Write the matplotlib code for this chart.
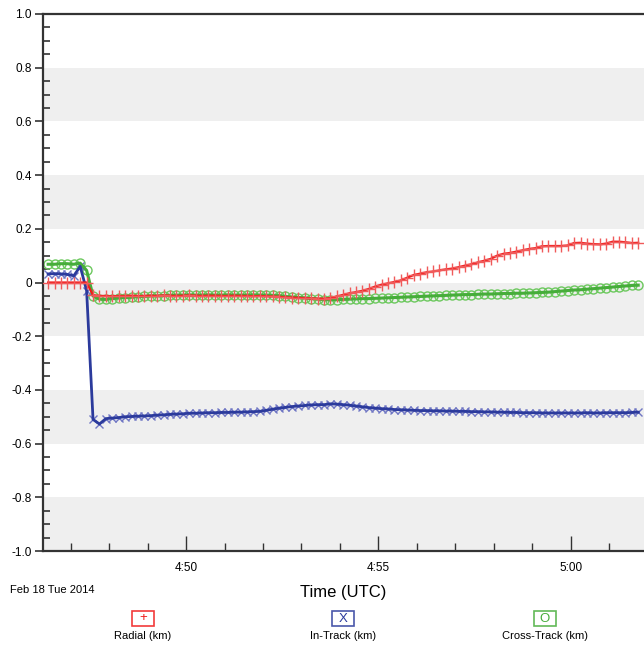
import datetime as dt
import matplotlib
matplotlib.use("Agg")
import matplotlib.pyplot as plt
import matplotlib.dates as mdates
from matplotlib.patches import Rectangle
from matplotlib.ticker import MultipleLocator, FuncFormatter

plt.rcParams['font.family'] = ['Liberation Sans Narrow', 'Liberation Sans', 'DejaVu Sans']

# samples every 10 s starting 04:46:25 UTC
t0 = dt.datetime(2014, 2, 18, 4, 46, 25)
n_pts = 93
times = [t0 + dt.timedelta(seconds=10 * i) for i in range(n_pts)]

radial = [0.0, 0.0, 0.0, 0.0, 0.0, 0.0, 0.0, -0.047, -0.05, -0.05,
          -0.051, -0.05, -0.05, -0.049, -0.05, -0.05, -0.049, -0.05, -0.048, -0.049,
          -0.05, -0.049, -0.048, -0.049, -0.05, -0.049, -0.049, -0.05, -0.05, -0.049,
          -0.05, -0.05, -0.051, -0.05, -0.051, -0.052, -0.053, -0.055, -0.056, -0.057,
          -0.058, -0.059, -0.06, -0.06, -0.058, -0.052, -0.046, -0.04, -0.036, -0.031,
          -0.024, -0.015, -0.008, -0.003, 0.002, 0.008, 0.018, 0.028, 0.033, 0.038,
          0.041, 0.045, 0.049, 0.052, 0.057, 0.063, 0.068, 0.075, 0.081, 0.088,
          0.1, 0.107, 0.11, 0.115, 0.12, 0.125, 0.128, 0.135, 0.136, 0.136,
          0.136, 0.138, 0.147, 0.148, 0.145, 0.143, 0.142, 0.145, 0.152, 0.152,
          0.15, 0.147, 0.148]

in_track = [0.032, 0.033, 0.032, 0.03, 0.025, 0.06, -0.03, -0.51, -0.527, -0.507,
            -0.505, -0.503, -0.5, -0.499, -0.498, -0.497, -0.496, -0.494, -0.493, -0.491,
            -0.49, -0.489, -0.487, -0.487, -0.486, -0.485, -0.485, -0.484, -0.484, -0.483,
            -0.483, -0.482, -0.481, -0.48, -0.476, -0.472, -0.468, -0.465, -0.462, -0.46,
            -0.458, -0.456, -0.455, -0.455, -0.452, -0.453, -0.455, -0.457, -0.46, -0.463,
            -0.466, -0.468, -0.47, -0.471, -0.473, -0.474, -0.475, -0.476, -0.477, -0.477,
            -0.478, -0.478, -0.479, -0.479, -0.48, -0.48, -0.481, -0.481, -0.482, -0.482,
            -0.483, -0.483, -0.484, -0.484, -0.485, -0.485, -0.485, -0.486, -0.486, -0.486,
            -0.486, -0.486, -0.486, -0.486, -0.485, -0.486, -0.486, -0.485, -0.485, -0.485,
            -0.485, -0.484, -0.483]

cross_track = [0.068, 0.068, 0.07, 0.07, 0.068, 0.072, 0.045, -0.05, -0.062, -0.063,
               -0.06, -0.058, -0.056, -0.055, -0.053, -0.052, -0.05, -0.05, -0.049, -0.048,
               -0.047, -0.047, -0.046, -0.047, -0.047, -0.046, -0.047, -0.047, -0.046, -0.047,
               -0.047, -0.047, -0.046, -0.047, -0.047, -0.048, -0.049, -0.052, -0.054, -0.056,
               -0.057, -0.06, -0.062, -0.064, -0.065, -0.064, -0.063, -0.062, -0.061, -0.06,
               -0.06, -0.059, -0.058, -0.057, -0.056, -0.055, -0.054, -0.053, -0.052, -0.051,
               -0.05, -0.049, -0.048, -0.047, -0.046, -0.045, -0.045, -0.044, -0.043, -0.043,
               -0.042, -0.041, -0.041, -0.04, -0.04, -0.039, -0.038, -0.037, -0.036, -0.034,
               -0.032, -0.03, -0.028, -0.027, -0.025, -0.023, -0.021, -0.019, -0.017, -0.015,
               -0.013, -0.011, -0.01]

series_labels = ["Radial (km)", "In-Track (km)", "Cross-Track (km)"]
legend_symbols = ["+", "X", "O"]
y_ticks = [1.0, 0.8, 0.6, 0.4, 0.2, 0.0, -0.2, -0.4, -0.6, -0.8, -1.0]
date_label = "Feb 18 Tue 2014"

red_line, red_mark = "#f01818", "#f05a5a"
blue_line, blue_mark = "#2b3a9c", "#6f76c4"
green_line, green_mark = "#46ad3a", "#6cc85e"

W, H = 644, 646
fig = plt.figure(figsize=(W / 100, H / 100), dpi=100)
ax = fig.add_axes([43 / W, 1 - 551 / H, 1 - 43 / W, (551 - 14) / H])

# alternating light bands
for lo in [0.6, 0.2, -0.2, -0.6, -1.0]:
    ax.axhspan(lo, lo + 0.2, color="#efefef", lw=0, zorder=0)

# cross-track
ax.plot(times, cross_track, ls="none", marker="o", ms=6.5, mfc="none", mec=green_mark, mew=1.0, zorder=2)
ax.plot(times, cross_track, color=green_line, lw=2.2, zorder=3)
# in-track
ax.plot(times, in_track, ls="none", marker="x", ms=6, mec=blue_mark, mew=1.0, zorder=2)
ax.plot(times, in_track, color=blue_line, lw=2.0, zorder=3)
# radial
ax.plot(times, radial, color=red_line, lw=1.6, zorder=4)
ax.plot(times, radial, ls="none", marker="+", ms=8, mec=red_mark, mew=1.0, zorder=5)

ax.set_ylim(-1.0, 1.0)
ax.set_xlim(dt.datetime(2014, 2, 18, 4, 46, 17), dt.datetime(2014, 2, 18, 5, 1, 54))

ax.set_yticks(y_ticks)
ax.set_yticklabels(["0" if v == 0 else f"{v:.1f}" for v in y_ticks])
ax.yaxis.set_minor_locator(MultipleLocator(0.05))
ax.tick_params(axis="y", which="major", direction="out", length=6, width=1.2, color="#333333",
               labelsize=8.5, pad=2)
ax.tick_params(axis="y", which="minor", direction="in", length=5, width=1.2, color="#333333")

ax.xaxis.set_major_locator(mdates.MinuteLocator(byminute=[50, 55, 0]))
ax.xaxis.set_minor_locator(mdates.MinuteLocator())
ax.xaxis.set_major_formatter(FuncFormatter(lambda v, p: f"{mdates.num2date(v).hour}:{mdates.num2date(v).minute:02d}"))
ax.tick_params(axis="x", which="major", direction="in", length=11, width=1.0, color="#333333",
               labelsize=8.5, pad=8)
ax.tick_params(axis="x", which="minor", direction="in", length=6, width=1.0, color="#333333")

for side in ["left", "bottom", "top"]:
    ax.spines[side].set_color("#333333")
    ax.spines[side].set_linewidth(1.6)
ax.spines["right"].set_visible(False)

fig.text(343 / W, 1 - 592 / H, "Time (UTC)", ha="center", va="center", fontsize=12)
fig.text(10 / W, 1 - 590 / H, date_label, ha="left", va="center", fontsize=8)

# legend: coloured box with the marker symbol, label underneath
legend_x = [143, 343, 545]
legend_cols = [red_line, blue_line, green_line]
for x, sym, lab, col in zip(legend_x, legend_symbols, series_labels, legend_cols):
    fig.patches.append(Rectangle(((x - 11) / W, 1 - 626 / H), 22 / W, 15 / H, transform=fig.transFigure,
                                 fc="white", ec=col, lw=1.2, alpha=0.85))
    fig.text(x / W, 1 - 618.5 / H, sym, ha="center", va="center", fontsize=9.5, color=col)
    fig.text(x / W, 1 - 636 / H, lab, ha="center", va="center", fontsize=8)

fig.savefig("out.png", dpi=100)
